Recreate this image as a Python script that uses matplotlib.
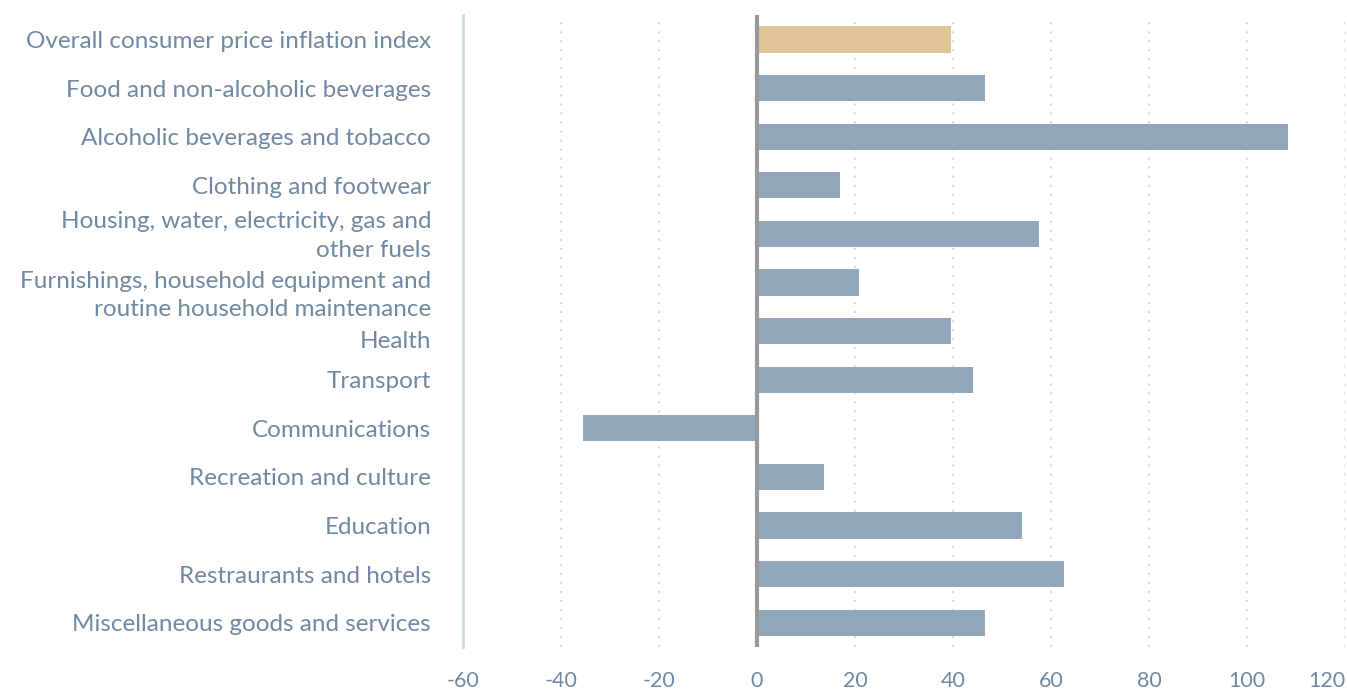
import matplotlib.pyplot as plt
from matplotlib import transforms

categories = [
    "Overall consumer price inflation index",
    "Food and non-alcoholic beverages",
    "Alcoholic beverages and tobacco",
    "Clothing and footwear",
    "Housing, water, electricity, gas and\nother fuels",
    "Furnishings, household equipment and\nroutine household maintenance",
    "Health",
    "Transport",
    "Communications",
    "Recreation and culture",
    "Education",
    "Restraurants and hotels",
    "Miscellaneous goods and services",
]
values = [39.6, 46.5, 108.4, 16.9, 57.6, 20.8, 39.6, 44.1, -35.5, 13.7, 54.1, 62.7, 46.5]
xticks = [-60, -40, -20, 0, 20, 40, 60, 80, 100, 120]

plt.rcParams['font.family'] = ['Lato', 'DejaVu Sans']
text_col = '#7088a2'
bar_col = '#93a7bb'
first_col = '#e0c596'

fig = plt.figure(figsize=(13.47, 6.93), dpi=100)
ax = fig.add_axes([0.3437, 0.0664, 0.6548, 0.9116])

colors = [first_col] + [bar_col] * (len(values) - 1)
ypos = list(range(len(values)))
ax.barh(ypos, values, height=0.54, color=colors, zorder=2)

ax.set_xlim(-60, 120)
ax.set_ylim(len(values) - 0.5, -0.5)
ax.set_xticks(xticks)
ax.set_xticklabels([str(t) for t in xticks])
ax.set_yticks(ypos)
ax.set_yticklabels(categories, linespacing=1.45, ha='right', ma='right')

ax.tick_params(axis='y', length=0, labelsize=17.5, colors=text_col, pad=23)
ax.tick_params(axis='x', length=0, labelsize=15.5, colors=text_col, pad=17)

# last x label is pulled inside the figure like in the original
ax.get_xticklabels()[-1].set_horizontalalignment('right')

for t in xticks:
    if t not in (-60, 0):
        ax.axvline(t, color='#c5d3e0', lw=1.3, ls=(0, (1, 4)), zorder=1)
ax.axvline(0, color='#999999', lw=3, zorder=3, ymin=-0.012, ymax=1)

for s in ['top', 'right', 'bottom']:
    ax.spines[s].set_visible(False)
ax.spines['left'].set_color('#ccd8ea')
ax.spines['left'].set_linewidth(2)

# the multi-line labels and Health are nudged like in the original
labels = ax.get_yticklabels()
for i, dy in [(4, 4), (5, -7), (6, -8)]:
    off = transforms.ScaledTranslation(0, dy / 100, fig.dpi_scale_trans)
    labels[i].set_transform(labels[i].get_transform() + off)

fig.savefig('out.png', dpi=100)
